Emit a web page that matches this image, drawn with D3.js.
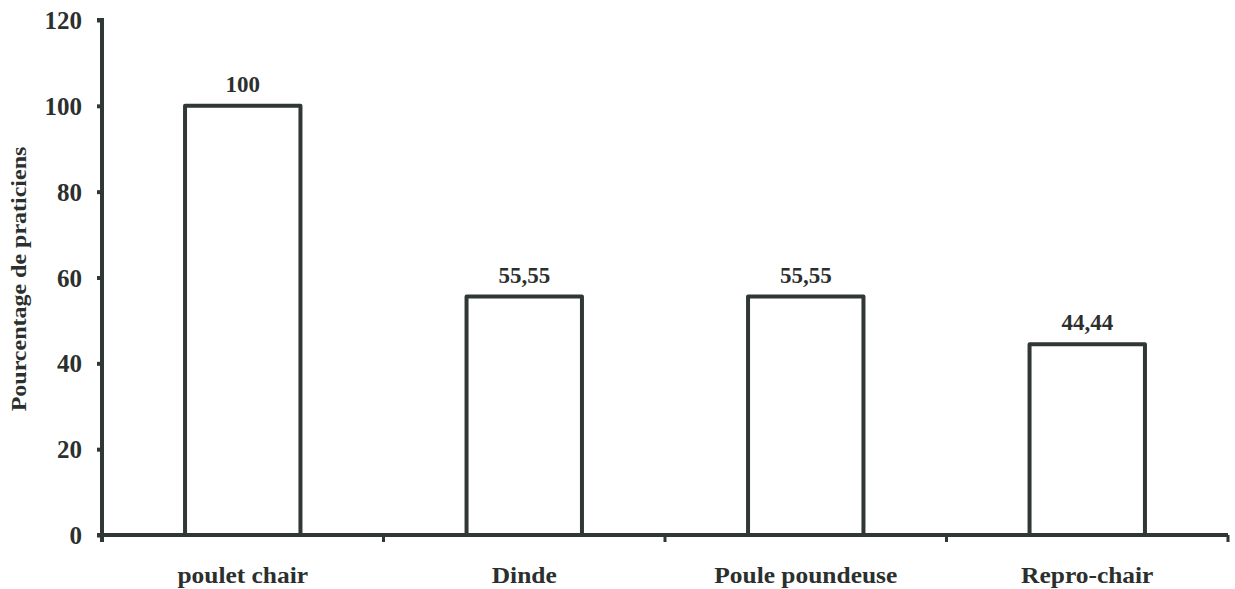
<!DOCTYPE html>
<html>
<head>
<meta charset="utf-8">
<script src="https://cdn.jsdelivr.net/npm/d3@7"></script>
<style>
  html, body { margin: 0; padding: 0; background: #fff; }
  svg { display: block; }
  text { font-family: "Liberation Serif", "Times New Roman", serif; font-weight: bold; fill: #2b302e; }
</style>
</head>
<body>
<svg id="chart" width="1235" height="589"></svg>
<script>
// Poultry sectors and share of practitioners (%)
const categories = ["poulet chair", "Dinde", "Poule poundeuse", "Repro-chair"];
const values = [100, 55.55, 55.55, 44.44];
const valueLabels = ["100", "55,55", "55,55", "44,44"];
const yTicks = [0, 20, 40, 60, 80, 100, 120];
const yTitle = "Pourcentage de praticiens";

const ink = "#2f3835";
const svg = d3.select("#chart");
const margin = { left: 102, right: 7, top: 20, bottom: 54 };
const W = 1235, H = 589;

const x = d3.scaleBand()
  .domain(categories)
  .range([margin.left, W - margin.right])
  .paddingInner(0.59)
  .paddingOuter(0.295);

const xOuter = d3.scaleBand()
  .domain(categories)
  .range([margin.left, W - margin.right]);

const y = d3.scaleLinear()
  .domain([0, 120])
  .range([H - margin.bottom, margin.top]);

// Bars: open rectangles, no bottom edge
svg.append("g")
  .selectAll("path")
  .data(values)
  .join("path")
  .attr("d", (d, i) => {
    const x0 = x(categories[i]), x1 = x0 + x.bandwidth();
    return `M${x0},${y(0)}V${y(d)}H${x1}V${y(0)}`;
  })
  .attr("fill", "#fff")
  .attr("stroke", ink)
  .attr("stroke-width", 4)
  .attr("stroke-linejoin", "round");

// Value labels above bars
svg.append("g")
  .selectAll("text")
  .data(values)
  .join("text")
  .attr("x", (d, i) => x(categories[i]) + x.bandwidth() / 2)
  .attr("y", d => y(d) - 14)
  .attr("text-anchor", "middle")
  .attr("font-size", 23)
  .text((d, i) => valueLabels[i]);

// Y axis
const yAxis = svg.append("g")
  .attr("transform", `translate(${margin.left},0)`)
  .call(d3.axisLeft(y).tickValues(yTicks).tickSize(5).tickPadding(15));
yAxis.select(".domain").attr("stroke", ink).attr("stroke-width", 4)
  .attr("d", `M-5,${y(120)}H0V${y(0)}`);
yAxis.selectAll(".tick line").attr("stroke", ink).attr("stroke-width", 4);
yAxis.selectAll(".tick text").attr("font-size", 25).attr("dy", "0.34em")
  .style("font-family", '"Liberation Serif", serif').style("font-weight", "bold").attr("fill", "#2b302e");

// X axis with ticks at band boundaries
const xAxisG = svg.append("g").attr("transform", `translate(0,${y(0)})`);
xAxisG.append("line")
  .attr("x1", margin.left - 5).attr("x2", W - margin.right)
  .attr("stroke", ink).attr("stroke-width", 4);
const boundaries = categories.map(c => xOuter(c) + xOuter.bandwidth());
xAxisG.selectAll("line.tick")
  .data(boundaries)
  .join("line")
  .attr("class", "tick")
  .attr("x1", d => d).attr("x2", d => d)
  .attr("y1", 0).attr("y2", 7)
  .attr("stroke", ink).attr("stroke-width", 3);
xAxisG.append("line")
  .attr("x1", margin.left).attr("x2", margin.left)
  .attr("y1", 0).attr("y2", 7)
  .attr("stroke", ink).attr("stroke-width", 4);
xAxisG.selectAll("text")
  .data(categories)
  .join("text")
  .attr("transform", d => `translate(${x(d) + x.bandwidth() / 2},48) scale(1.06,1)`)
  .attr("text-anchor", "middle")
  .attr("font-size", 24)
  .text(d => d);

// Y axis title
svg.append("text")
  .attr("transform", `translate(26,279) rotate(-90) scale(1.2,1)`)
  .attr("text-anchor", "middle")
  .attr("font-size", 20)
  .text(yTitle);
</script>
</body>
</html>
